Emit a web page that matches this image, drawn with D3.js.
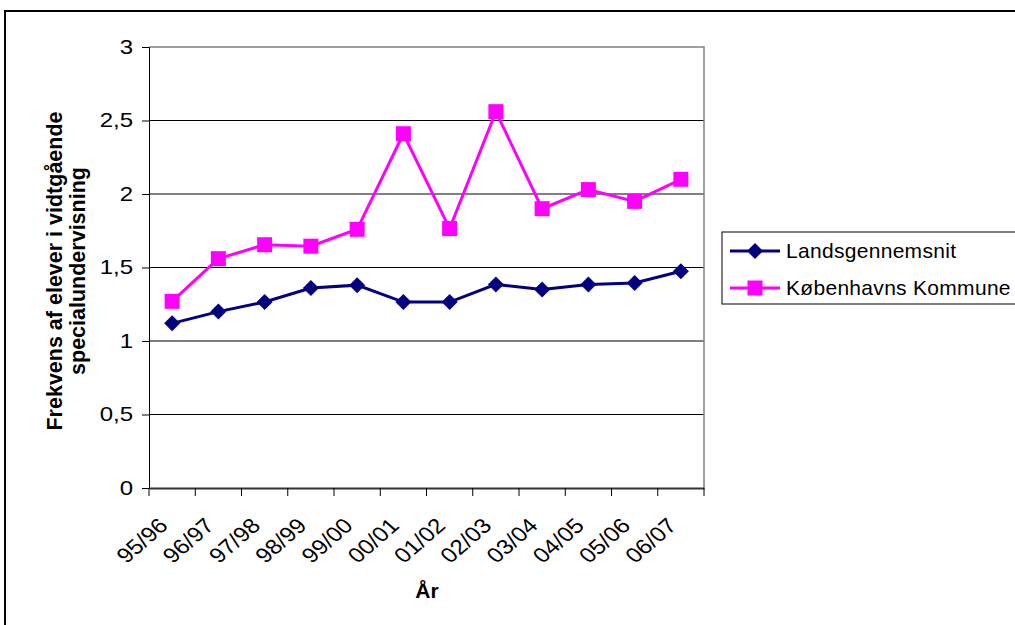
<html>
<head>
<script src="https://d3js.org/d3.v7.min.js"></script>
<style>
  body { margin: 0; background: #fff; }
  text { font-family: "Liberation Sans", Arial, sans-serif; fill: #000; }
</style>
</head>
<body>
<svg width="1015" height="625"></svg>
<script>
const years = ['95/96', '96/97', '97/98', '98/99', '99/00', '00/01', '01/02', '02/03', '03/04', '04/05', '05/06', '06/07'];
const lands = [1.12, 1.20, 1.265, 1.36, 1.38, 1.265, 1.265, 1.385, 1.35, 1.385, 1.395, 1.475];
const kbh = [1.27, 1.56, 1.655, 1.645, 1.76, 2.41, 1.765, 2.56, 1.90, 2.03, 1.95, 2.10];
const yTicks = [0, 0.5, 1, 1.5, 2, 2.5, 3];
const seriesNames = ['Landsgennemsnit', 'Københavns Kommune'];

const svg = d3.select('svg');

// outer frame
svg.append('rect')
  .attr('x', 5).attr('y', 11).attr('width', 1100).attr('height', 700)
  .attr('fill', 'none').attr('stroke', '#000').attr('stroke-width', 2);

const x = d3.scaleBand().domain(years).range([149, 704]);
const y = d3.scaleLinear().domain([0, 3]).range([488, 47]);

// grid
svg.append('g')
  .selectAll('line')
  .data(yTicks.filter(d => d > 0 && d < 3))
  .join('line')
  .attr('x1', 149).attr('x2', 704)
  .attr('y1', d => y(d)).attr('y2', d => y(d))
  .attr('stroke', '#000').attr('stroke-width', 1);

// plot border top/right
svg.append('path')
  .attr('d', `M149,${y(3)}H704V${y(0)}`)
  .attr('fill', 'none').attr('stroke', '#808080').attr('stroke-width', 1.5);

// y axis
const yAxis = svg.append('g')
  .attr('transform', 'translate(149,0)')
  .call(d3.axisLeft(y).tickValues(yTicks).tickSize(7).tickPadding(9)
    .tickFormat(d => String(d).replace('.', ',')));
yAxis.select('.domain').attr('stroke', '#000');
yAxis.selectAll('.tick line').attr('stroke', '#000');
yAxis.selectAll('text').style('font-size', '20px')
  .attr('transform', 'scale(1.2,1)').attr('x', -16 / 1.2);

// x axis
const xAxis = svg.append('g')
  .attr('transform', `translate(0,${y(0)})`)
  .call(d3.axisBottom(x).tickSize(8).tickSizeOuter(0).tickFormat(''));
xAxis.select('.domain').attr('stroke', '#333').attr('stroke-width', 2);
xAxis.selectAll('.tick').remove();
xAxis.selectAll('line.edge')
  .data(years.map(d => x(d)).concat([704]))
  .join('line')
  .attr('class', 'edge')
  .attr('x1', d => d).attr('x2', d => d)
  .attr('y1', 0).attr('y2', 8)
  .attr('stroke', '#000');

svg.append('g')
  .selectAll('text')
  .data(years)
  .join('text')
  .attr('transform', d => `translate(${x(d) + x.bandwidth() / 2 - 3},527) scale(1.15,1) rotate(-45)`)
  .attr('text-anchor', 'end')
  .style('font-size', '21px')
  .text(d => d);

// axis titles
svg.append('text')
  .attr('x', 427).attr('y', 598)
  .attr('text-anchor', 'middle')
  .style('font-size', '21px').style('font-weight', 'bold')
  .text('År');

const yt = svg.append('text')
  .attr('transform', 'translate(0,271) rotate(-90)')
  .attr('text-anchor', 'middle')
  .style('font-size', '21.5px').style('font-weight', 'bold');
yt.append('tspan').attr('x', 0).attr('y', 62).text('Frekvens af elever i vidtgående');
yt.append('tspan').attr('x', 0).attr('y', 85).text('specialundervisning');

// series
const line = d3.line().x((d, i) => x(years[i]) + x.bandwidth() / 2).y(d => y(d));

svg.append('path').datum(kbh)
  .attr('d', line).attr('fill', 'none').attr('stroke', '#ff00ff').attr('stroke-width', 3);
svg.append('path').datum(lands)
  .attr('d', line).attr('fill', 'none').attr('stroke', '#000080').attr('stroke-width', 3);

const sq = 15, dm = 8;
svg.append('g').selectAll('rect')
  .data(kbh)
  .join('rect')
  .attr('x', (d, i) => x(years[i]) + x.bandwidth() / 2 - sq / 2)
  .attr('y', d => y(d) - sq / 2)
  .attr('width', sq).attr('height', sq)
  .attr('fill', '#ff00ff');

const diamond = (cx, cy) => `M${cx},${cy - dm}L${cx + dm},${cy}L${cx},${cy + dm}L${cx - dm},${cy}Z`;
svg.append('g').selectAll('path')
  .data(lands)
  .join('path')
  .attr('d', (d, i) => diamond(x(years[i]) + x.bandwidth() / 2, y(d)))
  .attr('fill', '#000080');

// legend
svg.append('rect')
  .attr('x', 722).attr('y', 232).attr('width', 400).attr('height', 72)
  .attr('fill', '#fff').attr('stroke', '#000').attr('stroke-width', 1);

const leg = svg.append('g').selectAll('g')
  .data(seriesNames)
  .join('g')
  .attr('transform', (d, i) => `translate(0,${251 + i * 37})`);
leg.append('line')
  .attr('x1', 730).attr('x2', 780).attr('y1', 0).attr('y2', 0)
  .attr('stroke', (d, i) => i ? '#ff00ff' : '#000080').attr('stroke-width', 3);
leg.each(function (d, i) {
  const g = d3.select(this);
  if (i) {
    g.append('rect').attr('x', 755 - sq / 2).attr('y', -sq / 2).attr('width', sq).attr('height', sq).attr('fill', '#ff00ff');
  } else {
    g.append('path').attr('d', diamond(755, 0)).attr('fill', '#000080');
  }
});
leg.append('text')
  .attr('x', 786).attr('y', 7)
  .style('font-size', '21px').style('letter-spacing', '0.3px')
  .text(d => d);
</script>
</body>
</html>
